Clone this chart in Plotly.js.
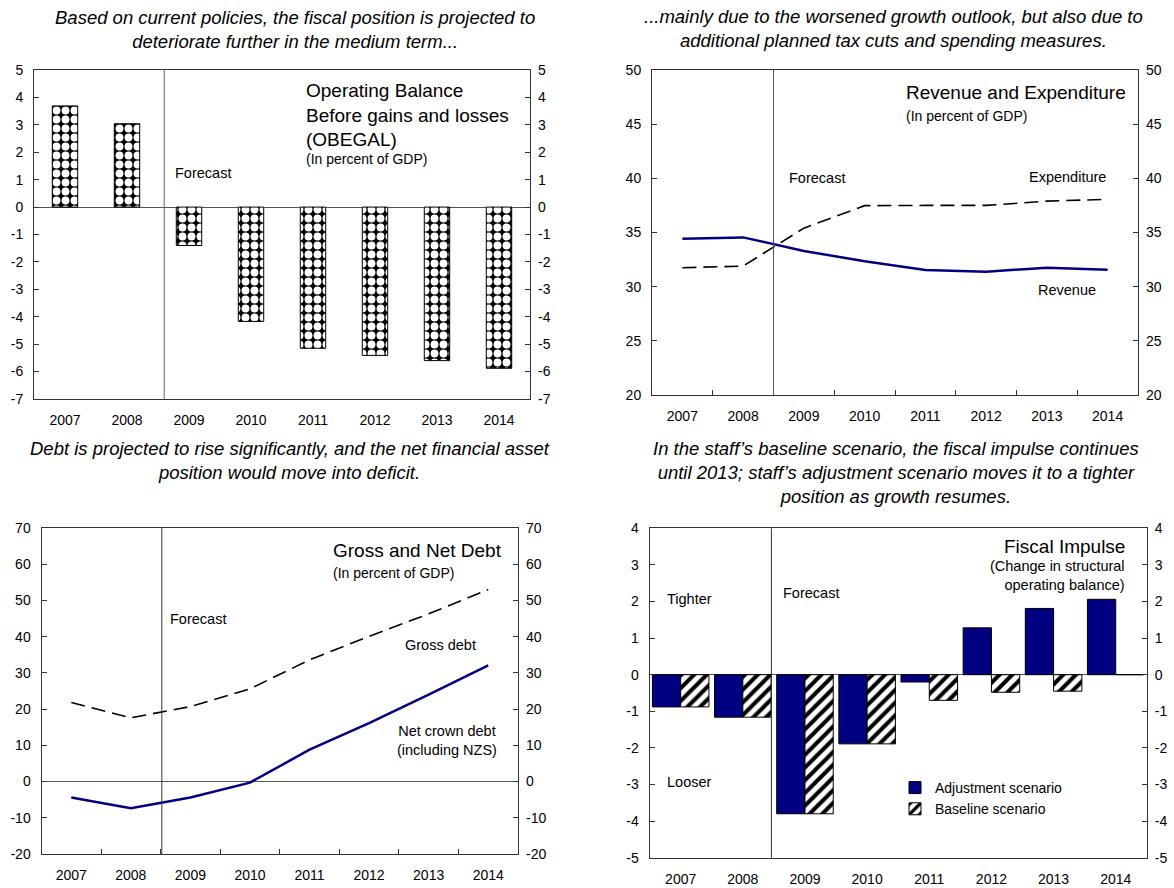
<!DOCTYPE html>
<html>
<head>
<meta charset="utf-8">
<script src="https://cdn.plot.ly/plotly-3.0.1.min.js"></script>
<style>
body { margin: 0; background: #fff; }
#chart { width: 1174px; height: 888px; }
</style>
</head>
<body>
<div id="chart"></div>
<script>
// Data
const years = ['2007', '2008', '2009', '2010', '2011', '2012', '2013', '2014'];
const obegal = [3.69, 3.04, -1.40, -4.17, -5.15, -5.41, -5.60, -5.88];
const revenue = [34.43, 34.55, 33.3, 32.34, 31.54, 31.38, 31.75, 31.57];
const expenditure = [31.75, 31.9, 35.4, 37.48, 37.5, 37.5, 37.9, 38.06];
const grossDebt = [21.8, 17.6, 20.7, 25.6, 33.6, 40.1, 46.3, 53.0];
const netDebt = [-4.4, -7.35, -4.4, -0.3, 8.8, 16.1, 24.0, 32.1];
const adjustment = [-0.88, -1.16, -3.80, -1.89, -0.20, 1.28, 1.81, 2.06];
const baseline = [-0.88, -1.16, -3.80, -1.89, -0.70, -0.48, -0.45, 0];

// y tick values and labels (plain hyphen minus, as in the reference)
const ticks1 = [-7, -6, -5, -4, -3, -2, -1, 0, 1, 2, 3, 4, 5];
const labels1 = ['-7', '-6', '-5', '-4', '-3', '-2', '-1', '0', '1', '2', '3', '4', '5'];
const ticks2 = [20, 25, 30, 35, 40, 45, 50];
const labels2 = ['20', '25', '30', '35', '40', '45', '50'];
const ticks3 = [-20, -10, 0, 10, 20, 30, 40, 50, 60, 70];
const labels3 = ['-20', '-10', '0', '10', '20', '30', '40', '50', '60', '70'];
const ticks4 = [-5, -4, -3, -2, -1, 0, 1, 2, 3, 4];
const labels4 = ['-5', '-4', '-3', '-2', '-1', '0', '1', '2', '3', '4'];

const FONT = 'Liberation Sans, Arial, sans-serif';
const NAVY = '#000080';
const W = 1174, H = 888;

// pixel -> paper helpers
function px(x) { return x / W; }
function py(y) { return 1 - y / H; }

function xAxis(x0, x1, anchor, ticks) {
    return {
        domain: [px(x0), px(x1)],
        anchor: anchor,
        type: 'category',
        range: [-0.5, 7.5],
        showline: true,
        mirror: true,
        linecolor: '#333',
        linewidth: 1,
        showgrid: false,
        zeroline: false,
        ticks: ticks ? 'inside' : '',
        tickson: 'boundaries',
        ticklen: 5,
        tickcolor: '#333',
        ticklabelstandoff: 8,
        tickfont: {family: FONT, size: 14, color: '#000'},
        fixedrange: true
    };
}

function yAxis(y0, y1, anchor, range, tv, tt, side, zero) {
    let ax = {
        domain: [py(y1), py(y0)],
        anchor: anchor,
        range: range,
        tickmode: 'array',
        tickvals: tv,
        ticktext: tt,
        side: side,
        showgrid: false,
        zeroline: zero && side == 'left',
        zerolinecolor: '#555',
        zerolinewidth: 1,
        ticks: 'inside',
        ticklen: 5,
        tickcolor: '#333',
        ticklabelstandoff: 7,
        tickfont: {family: FONT, size: 14, color: '#000'},
        fixedrange: true
    };
    if (side == 'left') {
        ax.showline = true;
        ax.mirror = true;
        ax.linecolor = '#333';
        ax.linewidth = 1;
    } else {
        ax.showline = false;
    }
    return ax;
}

// traces
let traces = [];

traces.push({
    type: 'bar', x: years, y: obegal, xaxis: 'x', yaxis: 'y',
    width: 0.41, showlegend: false,
    marker: {
        color: 'black',
        line: {color: 'black', width: 1},
        pattern: {shape: '.', bgcolor: 'black', fgcolor: 'white', fgopacity: 1, size: 9, solidity: 0.6}
    }
});

traces.push({
    type: 'scatter', mode: 'lines', x: years, y: expenditure, xaxis: 'x2', yaxis: 'y2',
    showlegend: false, line: {color: 'black', width: 1.6, dash: '14px,7px'}
});
traces.push({
    type: 'scatter', mode: 'lines', x: years, y: revenue, xaxis: 'x2', yaxis: 'y2',
    showlegend: false, line: {color: NAVY, width: 2.5}
});

traces.push({
    type: 'scatter', mode: 'lines', x: years, y: grossDebt, xaxis: 'x3', yaxis: 'y3',
    showlegend: false, line: {color: 'black', width: 1.6, dash: '14px,7px'}
});
traces.push({
    type: 'scatter', mode: 'lines', x: years, y: netDebt, xaxis: 'x3', yaxis: 'y3',
    showlegend: false, line: {color: NAVY, width: 2.5}
});

traces.push({
    type: 'bar', x: years, y: adjustment, xaxis: 'x4', yaxis: 'y4',
    name: 'Adjustment scenario',
    marker: {color: NAVY, line: {color: 'black', width: 1}}
});
traces.push({
    type: 'bar', x: years, y: baseline, xaxis: 'x4', yaxis: 'y4',
    name: 'Baseline scenario',
    marker: {
        color: 'white',
        line: {color: 'black', width: 1},
        pattern: {shape: '/', bgcolor: 'white', fgcolor: 'black', fgopacity: 1, size: 9, solidity: 0.45}
    }
});

// invisible traces so the right-hand axes get drawn
const rightAxes = [['x', 'y5', obegal], ['x2', 'y6', revenue], ['x3', 'y7', netDebt], ['x4', 'y8', adjustment]];
rightAxes.forEach(function (r) {
    traces.push({type: 'scatter', mode: 'none', x: years, y: r[2], xaxis: r[0], yaxis: r[1],
        showlegend: false, hoverinfo: 'skip'});
});

// annotation helper
function note(text, x, y, size, xanchor, align) {
    return {
        xref: 'paper', yref: 'paper', x: px(x), y: py(y),
        text: text, showarrow: false,
        xanchor: xanchor || 'left', yanchor: 'middle', align: align || 'left',
        font: {family: FONT, size: size, color: '#000'}
    };
}

let annotations = [
    // panel titles (italic)
    note('<i>Based on current policies, the fiscal position is projected to<br>deteriorate further in the medium term...</i>', 295, 29.5, 18.5, 'center', 'center'),
    note('<i>...mainly due to the worsened growth outlook, but also due to<br>additional planned tax cuts and spending measures.</i>', 893, 28.5, 18.5, 'center', 'center'),
    note('<i>Debt is projected to rise significantly, and the net financial asset<br>position would move into deficit.</i>', 290, 460.5, 18.5, 'center', 'center'),
    note('<i>In the staff\u2019s baseline scenario, the fiscal impulse continues<br>until 2013; staff\u2019s adjustment scenario moves it to a tighter<br>position as growth resumes.</i>', 896, 472.5, 18.5, 'center', 'center'),

    // panel 1
    note('Operating Balance<br>Before gains and losses<br>(OBEGAL)', 304, 115.5, 19),
    note('(In percent of GDP)', 304, 159, 14),
    note('Forecast', 173, 173, 14.5),

    // panel 2
    note('Revenue and Expenditure', 1128, 92, 19, 'right'),
    note('(In percent of GDP)', 904, 116, 14),
    note('Forecast', 787, 178, 14.5),
    note('Expenditure', 1108, 177, 14.5, 'right'),
    note('Revenue', 1067, 290, 14.5, 'center'),

    // panel 3
    note('Gross and Net Debt', 331, 550, 19),
    note('(In percent of GDP)', 331, 573, 14),
    note('Forecast', 168, 619, 14.5),
    note('Gross debt', 440, 645, 14.5, 'center'),
    note('Net crown debt<br>(including NZS)', 447, 740, 14.5, 'center', 'center'),

    // panel 4
    note('Fiscal Impulse', 1127, 546, 19, 'right'),
    note('(Change in structural<br>operating balance)', 1127, 575, 14.5, 'right', 'right'),
    note('Tighter', 665, 599, 14.5),
    note('Forecast', 781, 593, 14.5),
    note('Looser', 665, 782, 14.5)
];

// Forecast separators
function forecastLine(xref, yref, xval, color) {
    return {type: 'line', xref: xref, yref: yref + ' domain', x0: xval, x1: xval, y0: 0, y1: 1,
        line: {color: color, width: 1}};
}

let layout = {
    width: W,
    height: H,
    margin: {l: 0, r: 0, t: 0, b: 0},
    paper_bgcolor: 'white',
    plot_bgcolor: 'white',
    font: {family: FONT, size: 14, color: '#000'},
    barmode: 'group',
    bargap: 0.09,
    bargroupgap: 0,
    xaxis: xAxis(34, 530, 'y', false),
    yaxis: yAxis(70, 399, 'x', [-7, 5], ticks1, labels1, 'left', true),
    xaxis2: xAxis(652, 1138, 'y2', true),
    yaxis2: yAxis(70, 395, 'x2', [20, 50], ticks2, labels2, 'left', false),
    xaxis3: xAxis(41.5, 518, 'y3', true),
    yaxis3: yAxis(528, 854, 'x3', [-20, 70], ticks3, labels3, 'left', true),
    xaxis4: xAxis(649.6, 1146.8, 'y4', false),
    yaxis4: yAxis(528.3, 857.7, 'x4', [-5, 4], ticks4, labels4, 'left', true),
    yaxis5: Object.assign(yAxis(70, 399, 'x', [-7, 5], ticks1, labels1, 'right', false), {overlaying: 'y'}),
    yaxis6: Object.assign(yAxis(70, 395, 'x2', [20, 50], ticks2, labels2, 'right', false), {overlaying: 'y2'}),
    yaxis7: Object.assign(yAxis(528, 854, 'x3', [-20, 70], ticks3, labels3, 'right', false), {overlaying: 'y3'}),
    yaxis8: Object.assign(yAxis(528.3, 857.7, 'x4', [-5, 4], ticks4, labels4, 'right', false), {overlaying: 'y4'}),
    showlegend: true,
    legend: {
        x: px(895), y: py(772), xanchor: 'left', yanchor: 'top',
        bgcolor: 'rgba(0,0,0,0)', borderwidth: 0,
        font: {family: FONT, size: 14, color: '#000'},
        itemwidth: 30, tracegroupgap: 0
    },
    annotations: annotations,
    shapes: [
        forecastLine('x', 'y', 1.6, '#666'),
        forecastLine('x2', 'y2', 1.5, '#555'),
        forecastLine('x3', 'y3', 1.52, '#333'),
        forecastLine('x4', 'y4', 1.46, '#333')
    ]
};

Plotly.newPlot('chart', traces, layout, {displayModeBar: false, staticPlot: true});
</script>
</body>
</html>
